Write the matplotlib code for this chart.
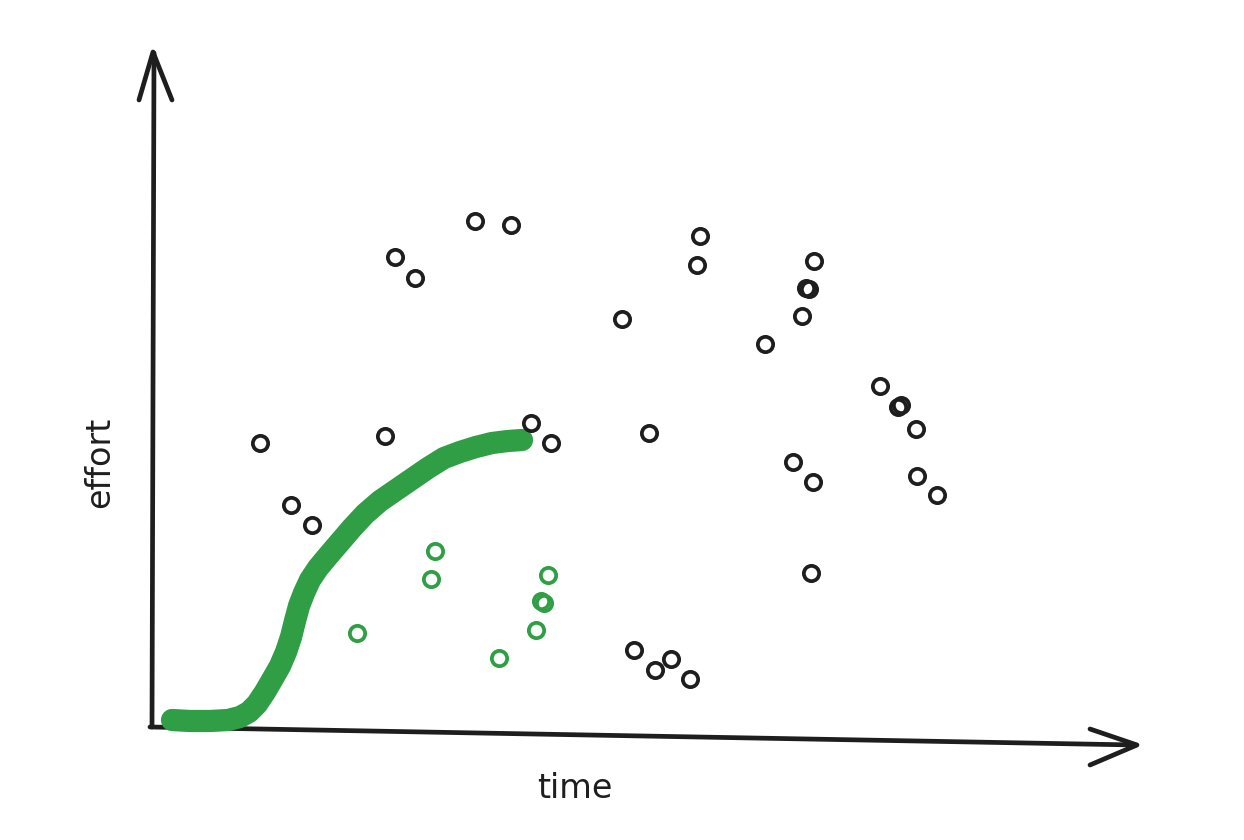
import matplotlib
matplotlib.use("Agg")
import matplotlib.pyplot as plt
import numpy as np

# sketch canvas coordinates (x right, y down)
black_x = [395, 415, 475, 511, 700, 697, 814, 806, 809, 802, 622, 765, 880, 898, 901,
           916, 917, 937, 260, 385, 531, 551, 649, 793, 813, 291, 312, 811, 634, 655, 671, 690]
black_y = [257, 278, 221, 225, 236, 265, 261, 288, 289, 316, 319, 344, 386, 407, 405,
           429, 476, 495, 443, 436, 423, 443, 433, 462, 482, 505, 525, 573, 650, 670, 659, 679]
green_x = [435, 431, 548, 541, 544, 536, 357, 499]
green_y = [551, 579, 575, 601, 603, 630, 633, 658]

curve_x = [172, 190, 210, 228, 240, 249, 257, 265, 272, 280, 286, 291, 295, 299, 304,
           310, 318, 328, 340, 352, 365, 380, 396, 412, 428, 444, 460, 476, 492, 508, 522]
curve_y = [720, 721, 721, 720, 717, 712, 704, 692, 680, 666, 652, 637, 621, 606, 593,
           580, 568, 556, 542, 528, 514, 501, 490, 479, 468, 458, 452, 447, 443, 441, 440]

ink = "#1e1e1e"
green = "#2f9e44"

fig = plt.figure(figsize=(12.44, 8.4), dpi=100)
ax = fig.add_axes([0, 0, 1, 1])
ax.set_xlim(0, 1244)
ax.set_ylim(840, 0)
ax.axis("off")

# axes with arrowheads
ax.plot([152, 154], [727, 53], color=ink, lw=3.4, solid_capstyle="round")
ax.plot([139, 153, 172], [100, 52, 100], color=ink, lw=3.4, solid_capstyle="round",
        solid_joinstyle="round")
ax.plot([150, 1136], [727, 745], color=ink, lw=3.4, solid_capstyle="round")
ax.plot([1090, 1137, 1090], [729, 745, 765], color=ink, lw=3.4, solid_capstyle="round",
        solid_joinstyle="round")

# green trend line
ax.plot(curve_x, curve_y, color=green, lw=16, solid_capstyle="round", solid_joinstyle="round")

ax.plot(black_x, black_y, "o", ms=11, mfc="none", mec=ink, mew=2.7)
ax.plot(green_x, green_y, "o", ms=11, mfc="none", mec=green, mew=2.7)

ax.text(100, 462, "effort", rotation=90, ha="center", va="center", fontsize=24,
        color=ink, fontweight="medium")
ax.text(575, 788, "time", ha="center", va="center", fontsize=24, color=ink,
        fontweight="medium")

fig.savefig("out.png", dpi=100, facecolor="white")
